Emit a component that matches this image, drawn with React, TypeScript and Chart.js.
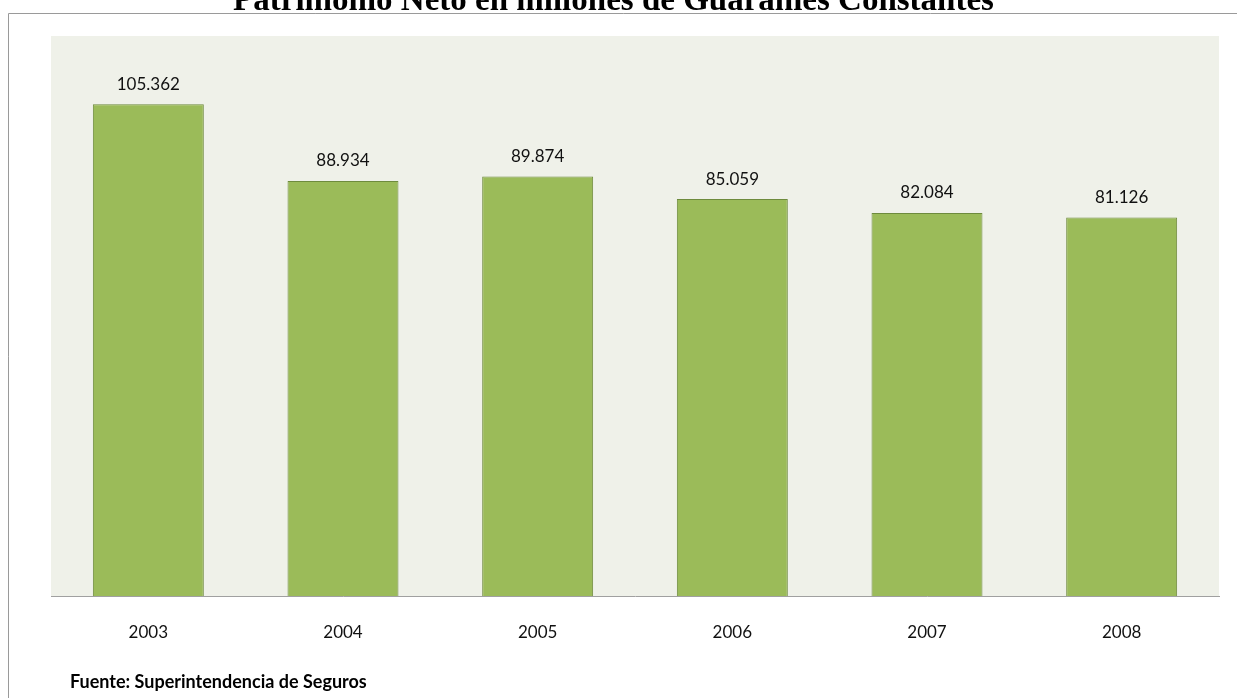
import React, { useEffect, useRef } from 'react';
import { Chart, registerables } from 'chart.js';

Chart.register(...registerables);

const TITLE = 'Patrimonio Neto en millones de Guaraníes Constantes';
const SOURCE = 'Fuente: Superintendencia de Seguros';
const years = ['2003', '2004', '2005', '2006', '2007', '2008'];
const patrimonio = [105.362, 88.934, 89.874, 85.059, 82.084, 81.126];

const W = 1237;
const H = 698;

const decor = {
  id: 'decor',
  beforeDraw(chart: any) {
    const { ctx, chartArea: a } = chart;
    ctx.save();
    ctx.fillStyle = '#ffffff';
    ctx.fillRect(0, 0, chart.width, chart.height);
    ctx.strokeStyle = '#9a9a9a';
    ctx.lineWidth = 1;
    ctx.beginPath();
    ctx.moveTo(8.5, chart.height + 2);
    ctx.lineTo(8.5, 13.5);
    ctx.lineTo(chart.width + 2, 13.5);
    ctx.stroke();
    ctx.fillStyle = '#EFF1E9';
    ctx.fillRect(a.left, a.top, a.right - a.left, a.bottom - a.top);
    ctx.restore();
  },
  afterDatasetsDraw(chart: any) {
    const { ctx } = chart;
    const meta = chart.getDatasetMeta(0);
    ctx.save();
    ctx.fillStyle = '#111111';
    ctx.font = '17px Lato';
    ctx.textAlign = 'center';
    ctx.textBaseline = 'middle';
    meta.data.forEach((bar: any, i: number) => {
      const v = chart.data.datasets[0].data[i] as number;
      ctx.fillText(v.toFixed(3), bar.x, bar.y - 20);
    });
    ctx.restore();
  },
  afterDraw(chart: any) {
    const { ctx } = chart;
    ctx.save();
    ctx.fillStyle = '#000000';
    ctx.font = 'bold 33px "Liberation Serif"';
    ctx.textAlign = 'center';
    ctx.textBaseline = 'alphabetic';
    ctx.fillText(TITLE, 613.5, 10);
    ctx.font = 'bold 18px Lato';
    ctx.textAlign = 'left';
    ctx.textBaseline = 'middle';
    ctx.fillText(SOURCE, 70, 682);
    ctx.restore();
  },
};

export default function App() {
  const ref = useRef<HTMLCanvasElement | null>(null);
  useEffect(() => {
    if (!ref.current) return;
    const chart = new Chart(ref.current, {
      type: 'bar',
      data: {
        labels: years,
        datasets: [
          {
            data: patrimonio,
            backgroundColor: '#9BBB59',
            borderColor: '#6E8B3D',
            borderWidth: 1,
            categoryPercentage: 1,
            barPercentage: 0.57,
          },
        ],
      },
      options: {
        animation: false,
        responsive: false,
        layout: { padding: { left: 51, right: 18, top: 36, bottom: 0 } },
        plugins: { legend: { display: false }, title: { display: false }, tooltip: { enabled: false } },
        scales: {
          y: { display: false, min: 0, max: 120 },
          x: {
            afterFit(scale: any) {
              scale.height = 102;
            },
            grid: { display: false, drawTicks: false },
            border: { display: true, color: '#a0a0a0', width: 1 },
            ticks: { color: '#111111', font: { family: 'Lato', size: 17 }, padding: 26 },
          },
        },
      },
      plugins: [decor],
    });
    return () => chart.destroy();
  }, []);
  return (
    <div style={{ position: 'fixed', left: 0, top: 0, width: W, height: H, background: '#fff' }}>
      <canvas ref={ref} width={W} height={H} style={{ display: 'block' }} />
    </div>
  );
}
